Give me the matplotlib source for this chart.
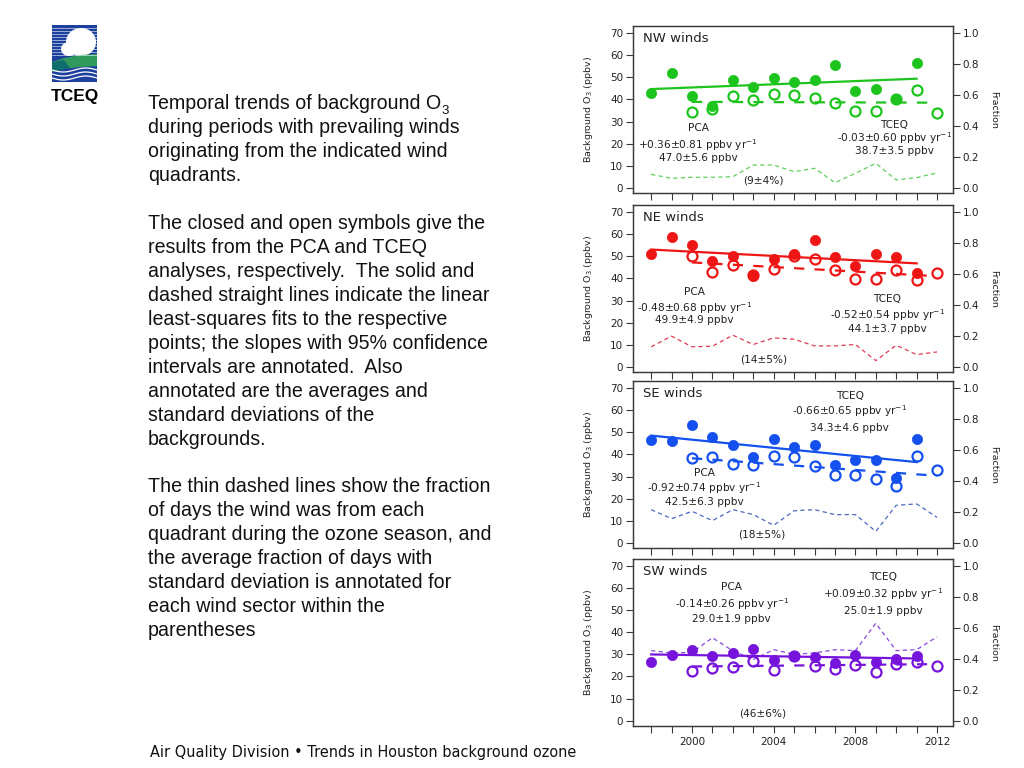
import numpy as np
import matplotlib
matplotlib.use("Agg")
import matplotlib.pyplot as plt
from matplotlib.patches import Rectangle, Ellipse, Polygon
from matplotlib.lines import Line2D

# ---------------- data ----------------
years_pca = list(range(1998, 2012))
years_tceq = list(range(2000, 2013))
years_frac = list(range(1998, 2013))

sectors = ["NW", "NE", "SE", "SW"]

nw_pca = [43.1, 51.9, 41.6, 36.9, 48.9, 45.6, 49.5, 47.7, 48.6, 55.7, 44.0, 44.7, 40.2, 56.3]
nw_tceq = [34.5, 35.7, 41.6, 39.6, 42.3, 42.0, 40.8, 38.4, 34.6, 34.6, 40.0, 44.1, 33.7]
nw_frac = [0.088, 0.062, 0.069, 0.069, 0.073, 0.148, 0.148, 0.105, 0.127, 0.034,
           0.095, 0.159, 0.052, 0.067, 0.097]

ne_pca = [50.9, 58.8, 54.9, 47.9, 50.0, 41.1, 48.8, 50.9, 57.3, 49.6, 45.5, 50.8, 49.7, 42.5]
ne_tceq = [49.9, 42.9, 46.2, 41.5, 44.4, 50.3, 48.7, 43.7, 39.6, 39.9, 43.7, 39.4, 42.5]
ne_frac = [0.130, 0.199, 0.130, 0.134, 0.205, 0.145, 0.188, 0.179, 0.136, 0.136,
           0.145, 0.041, 0.140, 0.080, 0.097]

se_pca = [46.3, 46.2, 53.4, 47.7, 44.1, 38.8, 46.9, 43.2, 44.2, 35.4, 37.6, 37.3, 29.3, 47.1]
se_tceq = [38.4, 38.8, 35.8, 35.4, 39.1, 39.0, 34.6, 30.8, 30.5, 29.0, 25.6, 39.4, 32.8]
se_frac = [0.215, 0.157, 0.204, 0.144, 0.215, 0.183, 0.114, 0.208, 0.215, 0.183,
           0.183, 0.075, 0.243, 0.252, 0.165]

sw_pca = [26.6, 29.8, 31.9, 29.4, 30.6, 32.2, 27.4, 29.4, 28.8, 26.2, 29.5, 26.3, 28.0, 29.4]
sw_tceq = [22.6, 23.8, 24.4, 27.1, 22.9, 29.0, 24.8, 23.3, 25.3, 22.1, 25.6, 26.3, 24.5]
sw_frac = [0.452, 0.437, 0.440, 0.535, 0.450, 0.395, 0.458, 0.428, 0.437, 0.458,
           0.452, 0.628, 0.452, 0.458, 0.541]

pca_slope = [0.36, -0.48, -0.92, -0.14]
pca_ci = [0.81, 0.68, 0.74, 0.26]
pca_mean = [47.0, 49.9, 42.5, 29.0]
pca_sd = [5.6, 4.9, 6.3, 1.9]
tceq_slope = [-0.03, -0.52, -0.66, 0.09]
tceq_ci = [0.60, 0.54, 0.65, 0.32]
tceq_mean = [38.7, 44.1, 34.3, 25.0]
tceq_sd = [3.5, 3.7, 4.6, 1.9]
frac_mean = [9, 14, 18, 46]
frac_sd = [4, 5, 5, 6]

year_labels = [2000, 2004, 2008, 2012]
o3_ticks = [0, 10, 20, 30, 40, 50, 60, 70]
frac_ticks = [0.0, 0.2, 0.4, 0.6, 0.8, 1.0]

para_lines = [
    ["Temporal trends of background O",
     "during periods with prevailing winds",
     "originating from the indicated wind",
     "quadrants."],
    ["The closed and open symbols give the",
     "results from the PCA and TCEQ",
     "analyses, respectively.  The solid and",
     "dashed straight lines indicate the linear",
     "least-squares fits to the respective",
     "points; the slopes with 95% confidence",
     "intervals are annotated.  Also",
     "annotated are the averages and",
     "standard deviations of the",
     "backgrounds."],
    ["The thin dashed lines show the fraction",
     "of days the wind was from each",
     "quadrant during the ozone season, and",
     "the average fraction of days with",
     "standard deviation is annotated for",
     "each wind sector within the",
     "parentheses"],
]
first_line_subscript = "3"
footer_text = "Air Quality Division \u2022 Trends in Houston background ozone"

# ---------------- style ----------------
plt.rcParams['mathtext.fontset'] = 'custom'
plt.rcParams['mathtext.rm'] = 'DejaVu Sans'
plt.rcParams['mathtext.it'] = 'DejaVu Sans:italic'
plt.rcParams['mathtext.bf'] = 'DejaVu Sans:bold'

colors = ['#1ec41e', '#ee1515', '#1450ee', '#7614dc']
frac_colors = ['#5ccf5c', '#e23a55', '#4a68c4', '#8a46e0']
pca_data = [nw_pca, ne_pca, se_pca, sw_pca]
tceq_data = [nw_tceq, ne_tceq, se_tceq, sw_tceq]
frac_data = [nw_frac, ne_frac, se_frac, sw_frac]

# annotation positions (x year, y value centers)
pca_pos = [(2000.3, [27.1, 19.5, 13.7]), (2000.1, [33.7, 26.5, 21.1]),
           (2000.6, [31.6, 24.7, 18.3]), (2001.95, [60.2, 52.5, 45.7])]
tceq_pos = [(2009.9, [28.6, 22.5, 16.7]), (2009.55, [30.8, 23.4, 17.3]),
            (2007.72, [66.3, 59.5, 52.1]), (2009.35, [64.8, 57.1, 49.6])]
frac_pos = [(2003.5, 3.6), (2003.5, 3.5), (2003.4, 3.8), (2003.46, 3.3)]

W, H = 1024, 768
fig = plt.figure(figsize=(W / 100, H / 100), dpi=100)
fig.patch.set_facecolor('white')

def fx(x):
    return x / W

def fy(y):
    return 1 - y / H

ax_left = 633
ax_w = 320
ax_h = 167
bottoms = [193.3, 372.3, 548.3, 726.0]
ylo, yhi = -2.4, 73.0
spine_c = '#3a3a3a'
txt_c = '#222222'
fs_tick = 7.5
fs_ann = 7.6
fs_lab = 6.8

for i, sec in enumerate(sectors):
    ax = fig.add_axes([fx(ax_left), fy(bottoms[i]), ax_w / W, ax_h / H])
    ax2 = ax.twinx()
    c = colors[i]
    ax2.plot(years_frac, frac_data[i], color=frac_colors[i], lw=0.9,
             linestyle=(0, (3.4, 2.6)))
    ax2.set_ylim(ylo / 70.0, yhi / 70.0)
    ax2.set_yticks(frac_ticks)
    ax2.set_yticklabels([f"{t:.1f}" for t in frac_ticks])
    ax2.set_ylabel("Fraction", rotation=270, fontsize=fs_lab, color=txt_c)
    ax2.yaxis.set_label_coords((998 - ax_left) / ax_w, 0.5)

    ax.set_zorder(ax2.get_zorder() + 1)
    ax.patch.set_visible(False)

    xp = np.array(years_pca, dtype=float)
    xt = np.array(years_tceq, dtype=float)
    yfit_p = pca_mean[i] + pca_slope[i] * (xp - xp.mean())
    yfit_t = tceq_mean[i] + tceq_slope[i] * (xt - xt.mean())
    ax.plot(xt, yfit_t, color=c, lw=1.6, linestyle=(0, (4.6, 4.6)), zorder=2)
    ax.plot(xt, tceq_data[i], 'o', ms=7.2, mfc='none', mec=c, mew=1.6, zorder=3)
    ax.plot(xp, yfit_p, color=c, lw=1.6, zorder=4)
    ax.plot(xp, pca_data[i], 'o', ms=7.4, mfc=c, mec=c, mew=0.5, zorder=5)

    ax.set_xlim(1997.11, 2012.78)
    ax.set_ylim(ylo, yhi)
    ax.set_yticks(o3_ticks)
    ax.set_xticks(year_labels)
    ax.set_xticks(years_frac, minor=True)
    ax.set_ylabel("Background O$_3$ (ppbv)", fontsize=fs_lab, color=txt_c)
    ax.yaxis.set_label_coords(-(ax_left - 595) / ax_w, 0.5)

    for a in (ax, ax2):
        for sp in a.spines.values():
            sp.set_color(spine_c)
            sp.set_linewidth(0.9)
        a.tick_params(axis='both', which='both', direction='out', length=5,
                      width=0.8, color=spine_c, labelsize=fs_tick,
                      labelcolor=txt_c, pad=2)
    ax.tick_params(axis='x', which='both', top=False,
                   labelbottom=(i == len(sectors) - 1), pad=3)
    ax2.tick_params(axis='x', which='both', top=False, bottom=False)

    ax.text(0.03, 0.925, f"{sec} winds", transform=ax.transAxes, fontsize=9.5,
            color=txt_c, va='center', ha='left')

    for label, pos, sl, ci, mn, sd in (
            ("PCA", pca_pos[i], pca_slope[i], pca_ci[i], pca_mean[i], pca_sd[i]),
            ("TCEQ", tceq_pos[i], tceq_slope[i], tceq_ci[i], tceq_mean[i], tceq_sd[i])):
        xc, ys = pos
        ax.text(xc, ys[0], label, fontsize=fs_ann, color=txt_c, ha='center', va='center')
        ax.text(xc, ys[1], f"{sl:+.2f}\u00b1{ci:.2f} ppbv yr$^{{-1}}$",
                fontsize=fs_ann, color=txt_c, ha='center', va='center')
        ax.text(xc, ys[2], f"{mn:.1f}\u00b1{sd:.1f} ppbv",
                fontsize=fs_ann, color=txt_c, ha='center', va='center')
    ax.text(frac_pos[i][0], frac_pos[i][1], f"({frac_mean[i]}\u00b1{frac_sd[i]}%)",
            fontsize=fs_ann, color=txt_c, ha='center', va='center')

# ---------------- left text ----------------
para_starts = [109, 229, 492]
body_fs = 14.1
first_txt = None
for start, lines in zip(para_starts, para_lines):
    for k, line in enumerate(lines):
        t = fig.text(fx(148), fy(start + 24 * k), line, fontsize=body_fs,
                     family='Liberation Sans', color='#111111', va='baseline', ha='left')
        if first_txt is None:
            first_txt = t

renderer = fig.canvas.get_renderer()
bb = first_txt.get_window_extent(renderer=renderer)
fig.text(fx(bb.x1 + 0.5), fy(109 + 5), first_line_subscript, fontsize=body_fs * 0.68,
         family='Liberation Sans', color='#111111', va='baseline', ha='left')

fig.text(fx(150), fy(757), footer_text, fontsize=10.45, family='DejaVu Sans',
         color='#111111', va='baseline', ha='left')

# ---------------- logo ----------------
tf = fig.transFigure
fig.patches.append(Rectangle((fx(52), fy(82)), 45 / W, 57 / H, transform=tf,
                             facecolor='#1d3f9e', edgecolor='none'))
for yy in range(28, 56, 3):
    fig.lines.append(Line2D([fx(52), fx(97)], [fy(yy), fy(yy)], transform=tf,
                            color='white', lw=0.5, alpha=0.8))
fig.patches.append(Ellipse((fx(81), fy(42)), 30 / W, 28 / H, transform=tf,
                           facecolor='white', edgecolor='none'))
fig.patches.append(Ellipse((fx(69), fy(49)), 16 / W, 14 / H, transform=tf,
                           facecolor='white', edgecolor='none'))
fig.patches.append(Polygon([(fx(52), fy(62)), (fx(64), fy(58)), (fx(80), fy(55)),
                            (fx(97), fy(54)), (fx(97), fy(66)), (fx(80), fy(67)),
                            (fx(64), fy(69)), (fx(52), fy(72))], closed=True,
                           transform=tf, facecolor='#2f9a5c', edgecolor='none'))
fig.patches.append(Polygon([(fx(52), fy(62)), (fx(64), fy(60)), (fx(70), fy(68)),
                            (fx(52), fy(72))], closed=True,
                           transform=tf, facecolor='#0f6d6d', edgecolor='none'))
for off in (0, 4, 8):
    xs = np.linspace(52, 97, 30)
    ys = 70 + off + 2.0 * np.sin((xs - 52) / 45 * 2 * np.pi)
    fig.lines.append(Line2D(fx(xs), fy(ys), transform=tf, color='white', lw=0.9))
fig.text(fx(74.5), fy(101), "TCEQ", fontsize=12.5, family='Liberation Sans',
         weight='bold', color='black', ha='center', va='baseline')

fig.savefig("out.png", dpi=100, facecolor='white')
